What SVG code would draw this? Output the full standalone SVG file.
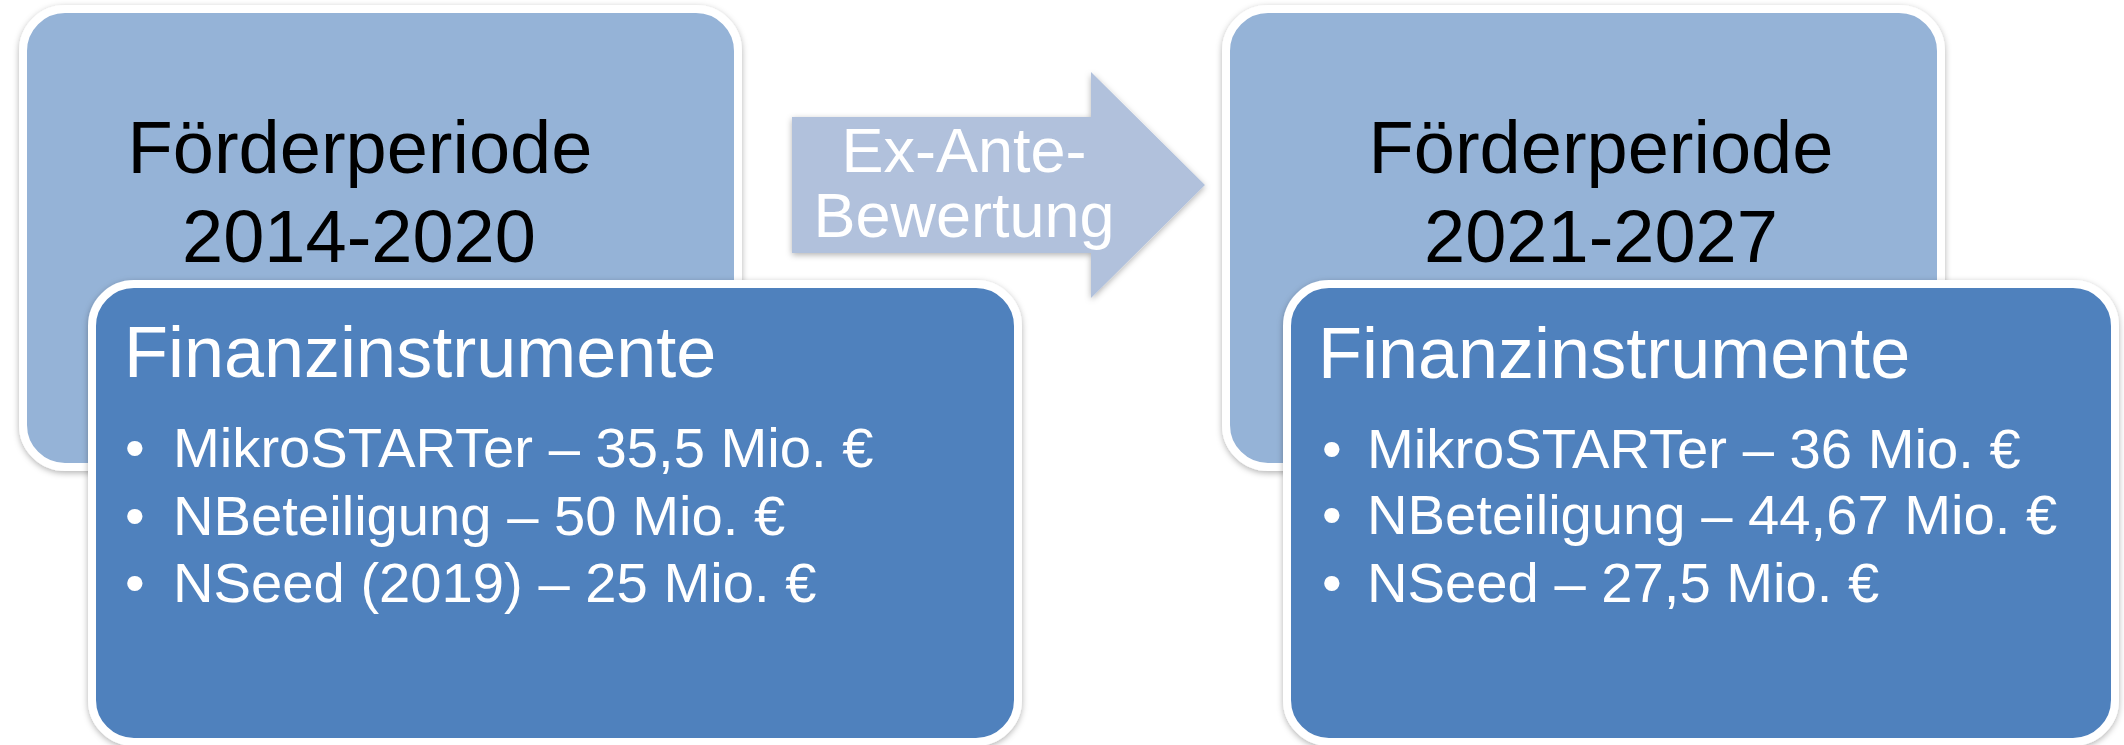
<svg xmlns="http://www.w3.org/2000/svg" width="2124" height="745" viewBox="0 0 2124 745">
<defs>
<filter id="sh" x="-10%" y="-10%" width="120%" height="120%">
<feDropShadow dx="0" dy="2" stdDeviation="3" flood-color="#000" flood-opacity="0.3"/>
</filter>
</defs>
<style>
.light{fill:#95B3D7;stroke:#FFFFFF;stroke-width:8;filter:url(#sh)}
.dark{fill:#4F81BD;stroke:#FFFFFF;stroke-width:8;filter:url(#sh)}
.arrow{fill:#B1C1DC;filter:url(#sh)}
.t{font-family:"Liberation Sans",Arial,sans-serif}
.head{font-size:74px;fill:#000000;text-anchor:middle}
.title{font-size:72px;fill:#FFFFFF}
.item{font-size:56.2px;fill:#FFFFFF}
.alabel{font-size:63px;fill:#FFFFFF;text-anchor:middle}
</style>
<rect width="2124" height="745" fill="#FFFFFF"/>
<g id="connectors">
<g id="arrow-exante">
<polygon class="arrow" points="792,117 1091,117 1091,72 1205,185 1091,298 1091,253 792,253"/>
<text class="t alabel" x="964" y="172">Ex-Ante-</text>
<text class="t alabel" x="964" y="237">Bewertung</text>
</g>
</g>
<g id="period-2014">
<rect class="light" x="23" y="9" width="715" height="458" rx="42" ry="42"/>
<text class="t head" x="360" y="173">Förderperiode</text>
<text class="t head" x="359" y="262">2014-2020</text>
</g>
<g id="instruments-2014">
<rect class="dark" x="92" y="284" width="926" height="458" rx="42" ry="42"/>
<text class="t title" x="124" y="377">Finanzinstrumente</text>
<text class="t item" x="125" y="467">•</text>
<text class="t item" x="173" y="467">MikroSTARTer – 35,5 Mio. €</text>
<text class="t item" x="125" y="535">•</text>
<text class="t item" x="173" y="535">NBeteiligung – 50 Mio. €</text>
<text class="t item" x="125" y="602">•</text>
<text class="t item" x="173" y="602">NSeed (2019) – 25 Mio. €</text>
</g>
<g id="period-2021">
<rect class="light" x="1226" y="9" width="715" height="458" rx="42" ry="42"/>
<text class="t head" x="1601" y="173">Förderperiode</text>
<text class="t head" x="1601" y="262">2021-2027</text>
</g>
<g id="instruments-2021">
<rect class="dark" x="1287" y="284" width="828" height="458" rx="42" ry="42"/>
<text class="t title" x="1318" y="378">Finanzinstrumente</text>
<text class="t item" x="1322" y="468">•</text>
<text class="t item" x="1367" y="468">MikroSTARTer – 36 Mio. €</text>
<text class="t item" x="1322" y="534">•</text>
<text class="t item" x="1367" y="534">NBeteiligung – 44,67 Mio. €</text>
<text class="t item" x="1322" y="602">•</text>
<text class="t item" x="1367" y="602">NSeed – 27,5 Mio. €</text>
</g>
</svg>
